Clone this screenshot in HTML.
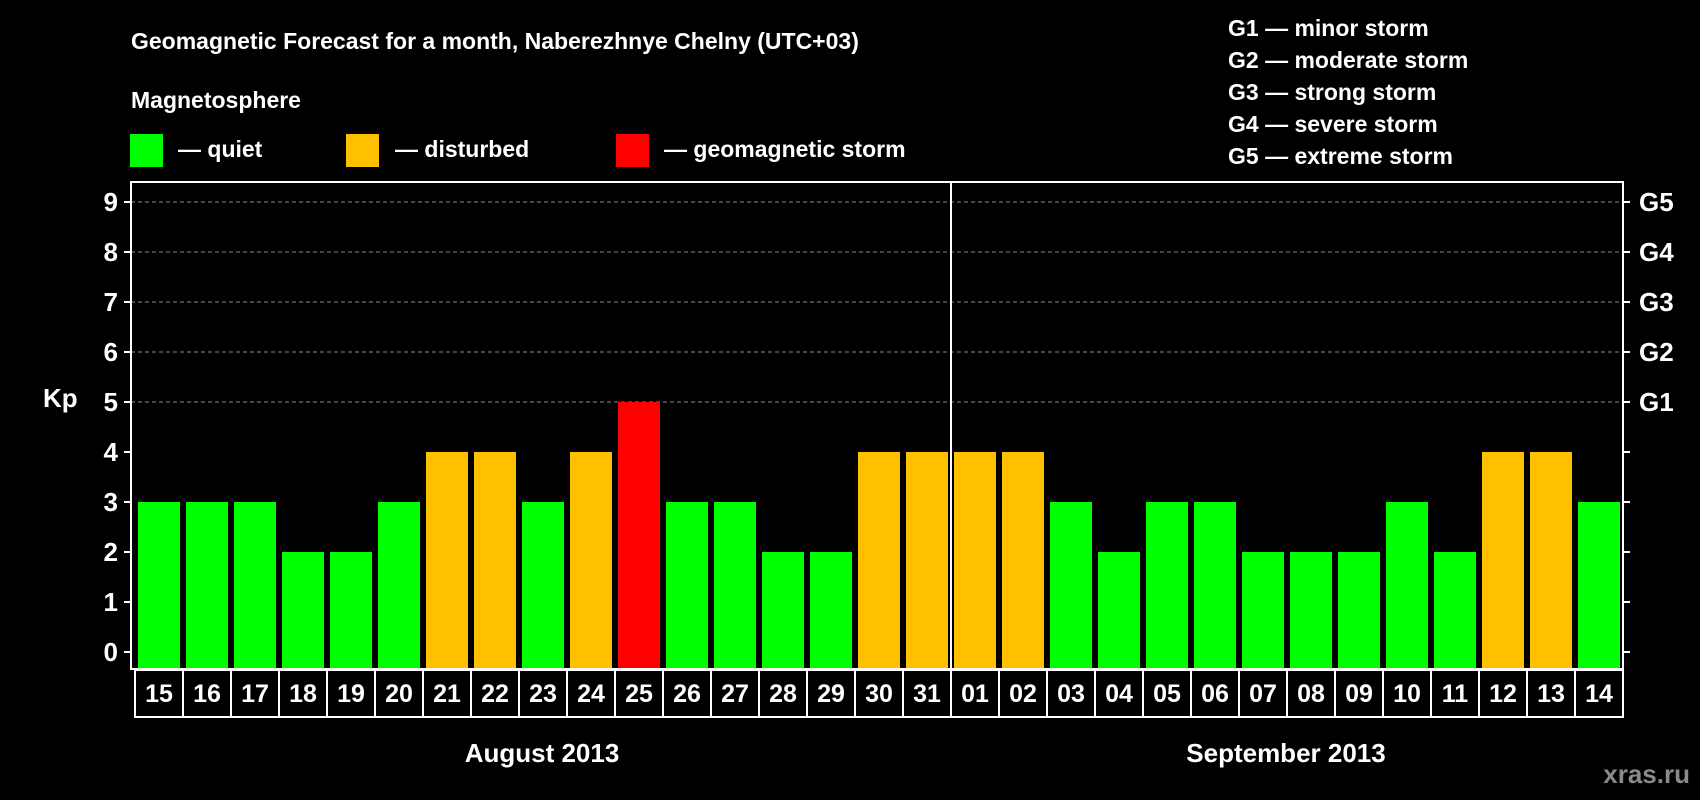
<!DOCTYPE html>
<html><head><meta charset="utf-8"><style>
html,body{margin:0;padding:0;background:#000;width:1700px;height:800px;overflow:hidden}
svg{display:block;font-family:"Liberation Sans",Arial,sans-serif;font-weight:bold}
</style></head><body>
<svg id="chart" width="1700" height="800">
<text x="131" y="49" fill="#fff" font-size="23">Geomagnetic Forecast for a month, Naberezhnye Chelny (UTC+03)</text>
<text x="131" y="108" fill="#fff" font-size="23">Magnetosphere</text>
<g><rect x="130" y="134" width="33" height="33" fill="#00ff00"/><text x="178" y="157" fill="#fff" font-size="23">— quiet</text></g>
<g><rect x="346" y="134" width="33" height="33" fill="#ffc000"/><text x="395" y="157" fill="#fff" font-size="23">— disturbed</text></g>
<g><rect x="616" y="134" width="33" height="33" fill="#ff0000"/><text x="664" y="157" fill="#fff" font-size="23">— geomagnetic storm</text></g>
<g fill="#fff" font-size="23">
<text x="1228" y="36">G1 — minor storm</text>
<text x="1228" y="68">G2 — moderate storm</text>
<text x="1228" y="100">G3 — strong storm</text>
<text x="1228" y="132">G4 — severe storm</text>
<text x="1228" y="164">G5 — extreme storm</text>
</g>
<text x="43" y="407" fill="#fff" font-size="26">Kp</text>
<text x="542" y="762" fill="#fff" font-size="26" text-anchor="middle">August 2013</text>
<text x="1286" y="762" fill="#fff" font-size="26" text-anchor="middle">September 2013</text>
<text x="1690" y="783" fill="#8a8a8a" font-size="26" text-anchor="end">xras.ru</text>
<g id="plot"></g>
</svg>
<script>
const days=["15","16","17","18","19","20","21","22","23","24","25","26","27","28","29","30","31","01","02","03","04","05","06","07","08","09","10","11","12","13","14"];
const kp=[3,3,3,2,2,3,4,4,3,4,5,3,3,2,2,4,4,4,4,3,2,3,3,2,2,2,3,2,4,4,3];
const yTicks=[0,1,2,3,4,5,6,7,8,9];
const gLabels=["G1","G2","G3","G4","G5"];
const NS="http://www.w3.org/2000/svg";
const g=document.getElementById('plot');
const L=131,R=1623,T=182,B=669,x0=138,step=48,bw=42;
const y=v=>652-v*50;
const xb=i=>x0+i*step;
function mk(t,a){const e=document.createElementNS(NS,t);for(const k in a)e.setAttribute(k,a[k]);g.appendChild(e);return e;}
yTicks.forEach(v=>{
  if(v>=5){const l=mk('line',{x1:L,x2:R,y1:y(v),y2:y(v),stroke:'#888','stroke-dasharray':'4,3','stroke-width':1});
  
  }
  const t1=mk('line',{x1:L-7,x2:L,y1:y(v),y2:y(v),stroke:'#fff','stroke-width':2});
  
  
  const t2=mk('line',{x1:R,x2:R+7,y1:y(v),y2:y(v),stroke:'#fff','stroke-width':2});
  
  
  const tx=mk('text',{x:L-13,y:y(v)+9,fill:'#fff','font-size':26,'text-anchor':'end'});tx.textContent=v;
  
  
});
gLabels.forEach((s,i)=>{const t=mk('text',{x:R+16,y:y(5+i)+9,fill:'#fff','font-size':26});t.textContent=s;
  
  });
kp.forEach((v,i)=>{
  const c=v>=5?'#ff0000':(v>=4?'#ffc000':'#00ff00');
  const r=mk('rect',{x:xb(i),y:y(v),width:bw,height:B-1-y(v),fill:c});
  
  
  const bx=mk('rect',{x:xb(i)-3,y:B+1,width:step,height:47,fill:'none',stroke:'#fff','stroke-width':2});
  
  
  const t=mk('text',{x:xb(i)+bw/2,y:B+33,fill:'#fff','font-size':25,'text-anchor':'middle'});t.textContent=days[i];
  
  
});
const f=mk('rect',{x:L,y:T,width:R-L,height:B-T,fill:'none',stroke:'#fff','stroke-width':2});


const sep=(xb(16)+bw+xb(17))/2;
const d=mk('line',{x1:sep,x2:sep,y1:T,y2:B,stroke:'#fff','stroke-width':2});


</script>
</body></html>
